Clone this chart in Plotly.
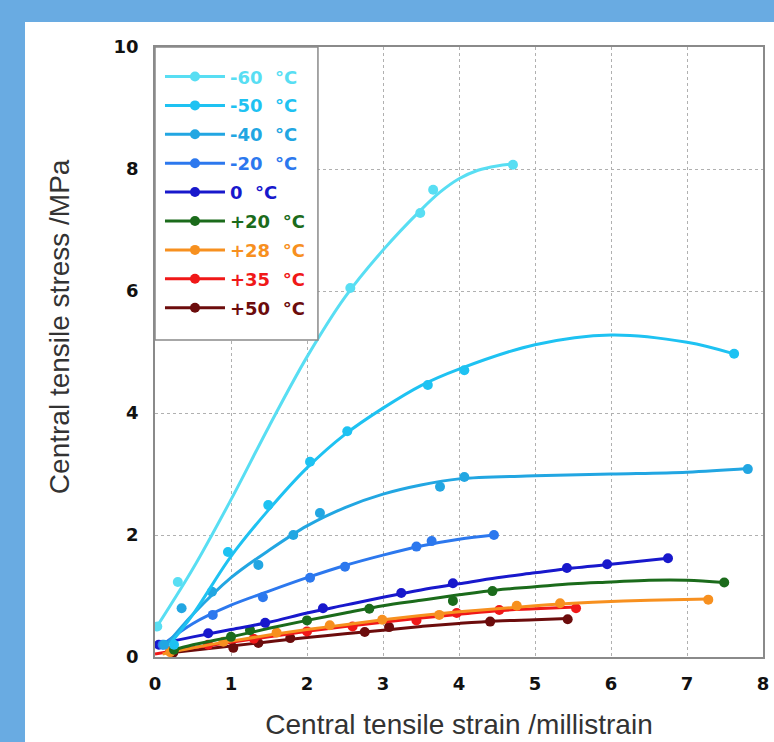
import plotly.graph_objects as go

# ---------------- data ----------------
series_names = ["-60 °C", "-50 °C", "-40 °C", "-20 °C", "0 °C",
                "+20 °C", "+28 °C", "+35 °C", "+50 °C"]

# measured points
m60_x = [0.03, 0.30, 2.57, 3.49, 3.66, 4.71]
m60_y = [0.50, 1.23, 6.05, 7.28, 7.66, 8.07]
m50_x = [0.25, 0.96, 1.49, 2.04, 2.53, 3.59, 4.07, 7.62]
m50_y = [0.20, 1.72, 2.49, 3.20, 3.70, 4.46, 4.70, 4.97]
m40_x = [0.12, 0.35, 0.75, 1.36, 1.82, 2.17, 3.75, 4.07, 7.80]
m40_y = [0.20, 0.80, 1.07, 1.51, 2.00, 2.36, 2.79, 2.95, 3.08]
m20n_x = [0.10, 0.76, 1.42, 2.04, 2.50, 3.44, 3.64, 4.46]
m20n_y = [0.20, 0.69, 0.98, 1.30, 1.48, 1.81, 1.90, 2.00]
z0_x = [0.05, 0.70, 1.45, 2.21, 3.24, 3.92, 5.42, 5.95, 6.75]
z0_y = [0.20, 0.39, 0.56, 0.80, 1.05, 1.21, 1.46, 1.52, 1.62]
p20_x = [0.25, 1.00, 1.25, 2.00, 2.82, 3.92, 4.44, 7.49]
p20_y = [0.12, 0.33, 0.44, 0.60, 0.79, 0.92, 1.08, 1.22]
p28_x = [0.20, 0.90, 1.60, 2.30, 2.99, 3.74, 4.76, 5.33, 7.28]
p28_y = [0.08, 0.25, 0.40, 0.52, 0.61, 0.69, 0.84, 0.88, 0.94]
p35_x = [0.20, 0.70, 1.30, 2.00, 2.60, 3.44, 3.97, 4.53, 5.54]
p35_y = [0.10, 0.20, 0.30, 0.42, 0.50, 0.60, 0.72, 0.77, 0.80]
p50_x = [0.24, 1.03, 1.36, 1.78, 2.76, 3.08, 4.41, 5.43]
p50_y = [0.07, 0.15, 0.23, 0.31, 0.41, 0.49, 0.58, 0.62]

# fitted curves
f60_x = [0.0, 0.5, 1.0, 1.5, 2.0, 2.5, 3.0, 3.5, 3.75, 4.0, 4.25, 4.5, 4.7]
f60_y = [0.45, 1.45, 2.58, 3.78, 4.92, 5.90, 6.67, 7.33, 7.62, 7.84, 7.98, 8.05, 8.08]
f50_x = [0.22, 0.5, 1.0, 1.5, 2.0, 2.5, 3.0, 3.5, 4.0, 5.0, 6.0, 7.0, 7.62]
f50_y = [0.25, 0.70, 1.65, 2.42, 3.10, 3.65, 4.08, 4.45, 4.72, 5.12, 5.28, 5.16, 4.97]
f40_x = [0.15, 0.5, 1.0, 1.5, 2.0, 2.5, 3.0, 3.5, 4.0, 5.0, 6.0, 7.0, 7.8]
f40_y = [0.20, 0.70, 1.30, 1.75, 2.15, 2.45, 2.67, 2.82, 2.92, 2.97, 3.00, 3.03, 3.09]
f20n_x = [0.10, 0.5, 1.0, 1.5, 2.0, 2.5, 3.0, 3.5, 4.0, 4.46]
f20n_y = [0.20, 0.55, 0.85, 1.08, 1.30, 1.50, 1.67, 1.82, 1.93, 2.00]
fz0_x = [0.0, 0.5, 1.0, 1.5, 2.0, 2.5, 3.0, 3.5, 4.0, 4.5, 5.0, 5.5, 6.0, 6.75]
fz0_y = [0.20, 0.33, 0.45, 0.57, 0.72, 0.85, 0.98, 1.10, 1.20, 1.30, 1.38, 1.46, 1.52, 1.62]
fp20_x = [0.2, 0.5, 1.0, 1.5, 2.0, 2.5, 3.0, 3.5, 4.0, 4.5, 5.0, 5.5, 6.0, 6.5, 7.0, 7.49]
fp20_y = [0.10, 0.20, 0.33, 0.47, 0.60, 0.72, 0.84, 0.93, 1.02, 1.10, 1.15, 1.20, 1.23, 1.26, 1.26, 1.22]
fp28_x = [0.1, 0.5, 1.0, 1.5, 2.0, 2.5, 3.0, 3.5, 4.0, 4.5, 5.0, 5.5, 6.0, 6.5, 7.28]
fp28_y = [0.05, 0.15, 0.26, 0.36, 0.45, 0.53, 0.61, 0.68, 0.74, 0.79, 0.84, 0.88, 0.91, 0.93, 0.95]
fp35_x = [0.0, 0.5, 1.0, 1.5, 2.0, 2.5, 3.0, 3.5, 4.0, 4.5, 5.0, 5.54]
fp35_y = [0.05, 0.15, 0.24, 0.33, 0.42, 0.50, 0.57, 0.64, 0.70, 0.76, 0.79, 0.82]
fp50_x = [0.2, 0.5, 1.0, 1.5, 2.0, 2.5, 3.0, 3.5, 4.0, 4.5, 5.0, 5.43]
fp50_y = [0.07, 0.11, 0.18, 0.25, 0.32, 0.38, 0.44, 0.50, 0.55, 0.59, 0.61, 0.63]

x_ticks = [0, 1, 2, 3, 4, 5, 6, 7, 8]
y_ticks = [0, 2, 4, 6, 8, 10]

x_title = "Central tensile strain /millistrain"
y_title = "Central tensile stress /MPa"

# ---------------- styles ----------------
colors = ["#58def3", "#1ec2f2", "#22a6e2", "#2c78ee", "#1818cc",
          "#1b6b1b", "#f7901f", "#f01818", "#6c0c0c"]

points = [(m60_x, m60_y), (m50_x, m50_y), (m40_x, m40_y), (m20n_x, m20n_y),
          (z0_x, z0_y), (p20_x, p20_y), (p28_x, p28_y), (p35_x, p35_y),
          (p50_x, p50_y)]
fits = [(f60_x, f60_y), (f50_x, f50_y), (f40_x, f40_y), (f20n_x, f20n_y),
        (fz0_x, fz0_y), (fp20_x, fp20_y), (fp28_x, fp28_y), (fp35_x, fp35_y),
        (fp50_x, fp50_y)]

TITLE_FONT = "Arial, Liberation Sans, sans-serif"
TICK_FONT = "DejaVu Sans, Verdana, sans-serif"

fig = go.Figure()

for i in reversed(range(len(series_names))):
    c = colors[i]
    fx, fy = fits[i]
    px, py = points[i]
    fig.add_trace(go.Scatter(x=fx, y=fy, mode="lines",
                             line=dict(color=c, width=3, shape="spline", smoothing=1.0),
                             showlegend=False, hoverinfo="skip"))
    fig.add_trace(go.Scatter(x=px, y=py, mode="markers",
                             marker=dict(color=c, size=10),
                             showlegend=False))

# legend entries
for i, name in enumerate(series_names):
    c = colors[i]
    label = name.replace(" °C", "\u00a0\u00a0°C")
    fig.add_trace(go.Scatter(x=[None], y=[None], mode="lines+markers",
                             name=f'<b><span style="color:{c}">{label}</span></b>',
                             line=dict(color=c, width=3),
                             marker=dict(color=c, size=10),
                             legendgroup=f"g{i}", legendrank=i))

fig.update_layout(
    width=774, height=742,
    margin=dict(l=155, r=11, t=47, b=85, autoexpand=False),
    paper_bgcolor="#69abe2",
    plot_bgcolor="white",
    font=dict(family=TITLE_FONT, color="#222"),
    showlegend=True,
    legend=dict(x=0.0082, y=0.9815, xanchor="left", yanchor="top",
                bgcolor="rgba(0,0,0,0)", borderwidth=0,
                font=dict(family=TICK_FONT, size=18),
                tracegroupgap=2.5, itemwidth=60,
                traceorder="grouped"),
    shapes=[
        dict(type="rect", xref="paper", yref="paper",
             x0=-0.2138, x1=1.05, y0=-0.16, y1=1.041,
             fillcolor="white", line=dict(width=0), layer="below"),
        dict(type="rect", xref="paper", yref="paper",
             x0=0, x1=0.268, y0=0.5197, y1=1,
             fillcolor="white", line=dict(color="#8a8a8a", width=1.5), layer="above"),
    ],
    annotations=[
        dict(text=y_title, xref="paper", yref="paper", x=-0.156, y=0.541,
             xanchor="center", yanchor="middle", textangle=-90, showarrow=False,
             font=dict(family=TITLE_FONT, size=28, color="#333")),
    ],
)

axis_common = dict(showline=True, mirror=True, linecolor="#8a8a8a", linewidth=1.5,
                   showgrid=True, gridcolor="#b0b0b0", griddash="dot", gridwidth=1,
                   zeroline=False, ticks="", automargin=False,
                   tickfont=dict(family=TICK_FONT, size=18, color="#111"))

fig.update_xaxes(range=[0, 8], tickvals=x_ticks,
                 ticktext=[f"<b>{t}</b>" for t in x_ticks],
                 ticklabelstandoff=10,
                 title=dict(text=x_title,
                            font=dict(family=TITLE_FONT, size=28, color="#333"),
                            standoff=21),
                 **axis_common)
fig.update_yaxes(range=[0, 10], tickvals=y_ticks,
                 ticktext=[f"<b>{t}</b>" for t in y_ticks],
                 ticklabelstandoff=11,
                 **axis_common)

fig.write_html("out.html", config={"displayModeBar": False},
               post_script="document.body.style.margin='0px';")
